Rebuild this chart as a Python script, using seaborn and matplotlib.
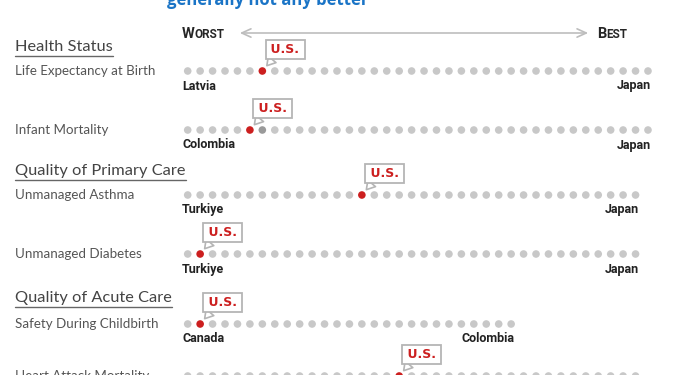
import pandas as pd
import seaborn as sns
import matplotlib.pyplot as plt

# data: dots per measure, U.S. rank (0 = worst), end labels
metrics = ["Life Expectancy at Birth", "Infant Mortality", "Unmanaged Asthma",
           "Unmanaged Diabetes", "Safety During Childbirth", "Heart Attack Mortality"]
n_countries = [38, 38, 37, 37, 27, 37]
us_rank = [6, 5, 14, 1, 1, 17]
tie_rank = [None, 6, None, None, None, None]
worst_country = ["Latvia", "Colombia", "Turkiye", "Turkiye", "Canada", ""]
best_country = ["Japan", "Japan", "Japan", "Japan", "Colombia", ""]
sections = ["Health Status", "Quality of Primary Care", "Quality of Acute Care"]

# layout (pixels)
row_y = [71, 130, 195, 254, 324, 376]
section_y = [47, 171, 298]
X0, STEP = 187.7, 12.44

GREY, RED, DARK = "#c8c8c8", "#cc1f1f", "#9a9a9a"
LABEL_FONT = ["Lato", "DejaVu Sans"]
NARROW = ["Liberation Sans Narrow", "Roboto", "DejaVu Sans"]

rows = []
for i, n in enumerate(n_countries):
    for r in range(n):
        status = "other"
        if r == us_rank[i]:
            status = "us"
        elif tie_rank[i] is not None and r == tie_rank[i]:
            status = "tie"
        rows.append({"rank": r, "y": row_y[i], "status": status})
df = pd.DataFrame(rows)

sns.set_theme(style="white")
fig = plt.figure(figsize=(7, 3.75), dpi=100)
lay = fig.add_axes([0, 0, 1, 1])
lay.set_xlim(0, 700)
lay.set_ylim(375, 0)
lay.axis("off")

ax = fig.add_axes([0, 0, 1, 1])
ax.set_xlim(-X0 / STEP, (700 - X0) / STEP)
ax.set_ylim(375, 0)
ax.axis("off")

sns.scatterplot(data=df, x="rank", y="y", hue="status",
                palette={"other": GREY, "us": RED, "tie": DARK},
                s=30, linewidth=0, legend=False, ax=ax, clip_on=False)

# title fragment cut off at the top
lay.text(167, 5, "generally not any better", color="#1a74c6", fontsize=12,
         fontweight="bold", family=["Open Sans", "DejaVu Sans"], va="baseline", ha="left")

# worst / best arrow
lay.text(182, 38, "W", fontsize=10.5, fontweight="bold", family=NARROW, va="baseline")
lay.text(194.5, 38, "ORST", fontsize=8.5, fontweight="bold", family=NARROW, va="baseline")
lay.text(597, 38, "B", fontsize=10.5, fontweight="bold", family=NARROW, va="baseline")
lay.text(606.5, 38, "EST", fontsize=8.5, fontweight="bold", family=NARROW, va="baseline")
lay.annotate("", xy=(237, 33), xytext=(591, 33),
             arrowprops=dict(arrowstyle="<->,head_width=0.25,head_length=0.55",
                             color="#bdbdbd", lw=1.2))

fig.canvas.draw()
renderer = fig.canvas.get_renderer()
inv = lay.transData.inverted()

for name, y in zip(sections, section_y):
    t = lay.text(15, y, name, fontsize=11.8, color="#444444", family=LABEL_FONT,
                 va="center", ha="left")
    bb = t.get_window_extent(renderer)
    x1 = inv.transform((bb.x1, 0))[0]
    lay.plot([15, x1], [y + 9, y + 9], color="#666666", lw=1)

for i, name in enumerate(metrics):
    y = row_y[i]
    lay.text(15, y, name, fontsize=9.6, color="#555555", family=LABEL_FONT,
             va="center", ha="left")
    ax.text(-0.45, y + 15, worst_country[i], fontsize=9, fontweight="bold",
            family=NARROW, color="#222222", ha="left", va="center")
    ax.text(n_countries[i] - 1 + 0.25, y + 15, best_country[i], fontsize=9,
            fontweight="bold", family=NARROW, color="#222222", ha="right", va="center")
    ax.annotate("\u2009U.S.\u2009", xy=(us_rank[i], y), xytext=(6, 15),
                textcoords="offset pixels", annotation_clip=False,
                ha="left", va="bottom", fontsize=9, fontweight="bold", color=RED,
                family="DejaVu Sans",
                bbox=dict(boxstyle="square,pad=0.22", fc="white", ec="#b5b5b5", lw=1.3),
                arrowprops=dict(arrowstyle="wedge,tail_width=0.8,shrink_factor=0.5",
                                fc="white", ec="#b5b5b5", lw=1.2, relpos=(0.2, 0.0),
                                shrinkA=0, shrinkB=5))

fig.savefig("out.png", dpi=100)
